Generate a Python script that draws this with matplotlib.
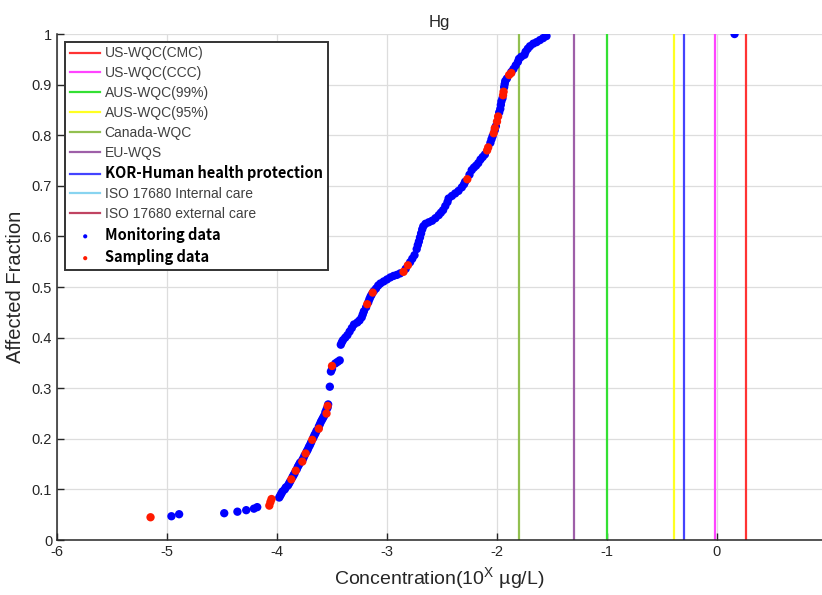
import matplotlib
matplotlib.use("Agg")
import matplotlib.pyplot as plt
from matplotlib.lines import Line2D

plt.rcParams['font.family'] = ['Liberation Sans', 'DejaVu Sans']
plt.rcParams['axes.unicode_minus'] = False

# guideline values, log10 of concentration (ug/L)
guide_names = ["US-WQC(CMC)", "US-WQC(CCC)", "AUS-WQC(99%)", "AUS-WQC(95%)",
               "Canada-WQC", "EU-WQS", "KOR-Human health protection"]
guide_values = [0.26, -0.02, -1.0, -0.39, -1.80, -1.30, -0.30]
guide_colors = ["#ff3333", "#ff44ff", "#33e033", "#ffff22",
                "#92c050", "#9e5fa8", "#4444ff"]

# ISO entries only appear in the legend
iso_names = ["ISO 17680 Internal care", "ISO 17680 external care"]
iso_colors = ["#88d4f0", "#c04462"]

monitor_x = [-4.96, -4.89, -4.48, -4.36, -4.28, -4.21, -4.18,
             -3.98, -3.97, -3.96, -3.95, -3.93, -3.92, -3.90, -3.89, -3.88, -3.86,
             -3.85, -3.84, -3.82, -3.81, -3.80, -3.79, -3.77, -3.76, -3.75, -3.73,
             -3.72, -3.71, -3.70, -3.69, -3.67, -3.66, -3.65, -3.64, -3.62, -3.61,
             -3.60, -3.59, -3.58, -3.57, -3.56, -3.55, -3.54, -3.535,
             -3.52, -3.51, -3.50, -3.47, -3.45, -3.43,
             -3.42, -3.41, -3.40, -3.38, -3.36, -3.34, -3.32, -3.30, -3.27, -3.25,
             -3.23, -3.22, -3.21, -3.19, -3.17, -3.16, -3.15, -3.14, -3.12, -3.10,
             -3.08, -3.06, -3.03, -3.00, -2.97, -2.94, -2.91, -2.88, -2.83, -2.79,
             -2.77, -2.75, -2.73, -2.72, -2.71, -2.70, -2.69, -2.68, -2.67, -2.65,
             -2.62, -2.59, -2.56, -2.53, -2.51, -2.49, -2.47, -2.45, -2.44, -2.41,
             -2.38, -2.35, -2.32, -2.30, -2.29, -2.25, -2.23, -2.21, -2.19, -2.17,
             -2.15, -2.13, -2.11, -2.06, -2.05, -2.04, -2.02, -2.01, -1.98, -1.97,
             -1.965, -1.96, -1.95, -1.935, -1.93, -1.925, -1.91, -1.87, -1.85, -1.83,
             -1.81, -1.80, -1.78, -1.75, -1.74, -1.72, -1.70, -1.67, -1.64, -1.61,
             -1.58, -1.55, 0.16]
monitor_y = [0.047, 0.051, 0.053, 0.056, 0.059, 0.062, 0.065,
             0.084, 0.088, 0.092, 0.096, 0.100, 0.104, 0.108, 0.112, 0.116, 0.124,
             0.128, 0.132, 0.140, 0.145, 0.149, 0.153, 0.158, 0.162, 0.167, 0.175,
             0.179, 0.184, 0.188, 0.193, 0.202, 0.207, 0.211, 0.216, 0.224, 0.229,
             0.234, 0.238, 0.242, 0.246, 0.253, 0.258, 0.262, 0.268,
             0.303, 0.333, 0.338, 0.349, 0.352, 0.355,
             0.386, 0.391, 0.395, 0.400, 0.405, 0.412, 0.419, 0.426, 0.430, 0.434,
             0.440, 0.446, 0.452, 0.460, 0.470, 0.476, 0.481, 0.485, 0.492, 0.497,
             0.503, 0.507, 0.511, 0.515, 0.519, 0.522, 0.524, 0.527, 0.536, 0.549,
             0.556, 0.563, 0.575, 0.583, 0.590, 0.598, 0.606, 0.614, 0.620, 0.625,
             0.628, 0.631, 0.636, 0.642, 0.647, 0.652, 0.660, 0.668, 0.675, 0.680,
             0.685, 0.690, 0.697, 0.703, 0.708, 0.722, 0.731, 0.736, 0.740, 0.745,
             0.752, 0.757, 0.762, 0.785, 0.792, 0.798, 0.810, 0.818, 0.845, 0.852,
             0.860, 0.867, 0.873, 0.895, 0.901, 0.907, 0.912, 0.925, 0.931, 0.938,
             0.945, 0.951, 0.955, 0.959, 0.965, 0.971, 0.976, 0.981, 0.984, 0.988,
             0.992, 0.996, 1.000]

sample_x = [-5.15, -4.07, -4.06, -4.05, -3.87, -3.83, -3.77, -3.74, -3.68, -3.62,
            -3.55, -3.54, -3.50, -3.18, -3.13, -2.85, -2.81, -2.27, -2.09, -2.08,
            -2.03, -2.02, -2.00, -1.99, -1.945, -1.94, -1.89, -1.87]
sample_y = [0.045, 0.068, 0.075, 0.081, 0.120, 0.137, 0.155, 0.171, 0.198, 0.220,
            0.250, 0.265, 0.344, 0.466, 0.489, 0.530, 0.543, 0.713, 0.770, 0.776,
            0.804, 0.814, 0.827, 0.837, 0.879, 0.886, 0.919, 0.923]

fig = plt.figure(figsize=(8.22, 5.95), dpi=100)
ax = fig.add_axes([0.0694, 0.0924, 0.9306, 0.8504])

for name, val, col in zip(guide_names, guide_values, guide_colors):
    ax.axvline(val, color=col, lw=1.6, label=name, zorder=2)

iso_handles = [Line2D([], [], color=c, lw=1.6) for c in iso_colors]

mon = ax.scatter(monitor_x, monitor_y, s=36, color="#0000ff", edgecolors="none",
                 zorder=3, label="Monitoring data")
smp = ax.scatter(sample_x, sample_y, s=36, color="#ff1a00", edgecolors="none",
                 zorder=4, label="Sampling data")

ax.set_xlim(-6, 0.955)
ax.set_ylim(0, 1)
ax.set_xticks(range(-6, 1))
ax.set_yticks([i / 10 for i in range(11)])
ax.set_yticklabels(["0"] + ["0.%d" % i for i in range(1, 10)] + ["1"])
ax.grid(True, color="#dddddd", lw=0.9, zorder=0)
ax.set_axisbelow(True)
ax.tick_params(direction="in", length=5, width=1, colors="#262626", labelsize=10.5)
for side in ["top", "right"]:
    ax.spines[side].set_visible(False)
for side in ["left", "bottom"]:
    ax.spines[side].set_color("#262626")
    ax.spines[side].set_linewidth(1.1)

ax.set_xlabel("Concentration(10$^{\\mathregular{X}}$ \u00b5g/L)", fontsize=14,
              color="#262626", labelpad=5)
ax.set_ylabel("Affected Fraction", fontsize=14.5, color="#262626", labelpad=5)
ax.set_title("Hg", fontsize=12, color="#262626", pad=5)

handles, labels = ax.get_legend_handles_labels()
line_h = handles[:7] + iso_handles
line_l = labels[:7] + iso_names
leg = ax.legend(line_h + [mon, smp], line_l + ["Monitoring data", "Sampling data"],
                loc="upper left", bbox_to_anchor=(0.0105, 0.985), fontsize=10,
                fancybox=False, framealpha=1, edgecolor="#333333",
                handlelength=2.2, handletextpad=0.3, labelspacing=0.42,
                borderpad=0.35, borderaxespad=0, markerscale=0.5)
leg.get_frame().set_linewidth(1.4)
for t in leg.get_texts():
    t.set_color("#404040")
for i in [6, 9, 10]:
    txt = leg.get_texts()[i]
    txt.set_color("black")
    txt.set_fontweight("bold")
    txt.set_family(["Noto Sans CJK KR", "DejaVu Sans"])
    txt.set_fontsize(10.5)

fig.savefig("out.png", dpi=100)
